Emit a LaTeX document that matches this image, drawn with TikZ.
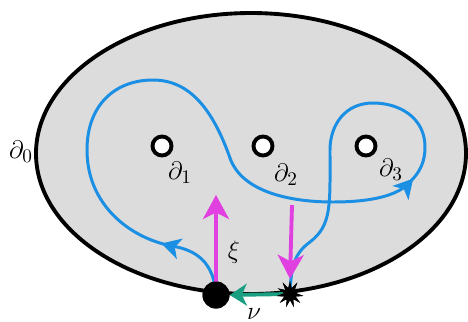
\documentclass[tikz,border=0pt]{standalone}
\usepackage{tikz}
\usetikzlibrary{arrows.meta, shapes.geometric, decorations.markings}
\definecolor{surfgray}{HTML}{DCDCDC}
\definecolor{loopblue}{HTML}{1B8FE3}
\definecolor{vecmagenta}{HTML}{E040E0}
\definecolor{nuteal}{HTML}{1A9E82}
\tikzset{
  surface/.style={draw=black, line width=2.2pt, fill=surfgray},
  hole/.style={
    circle, draw=black, line width=2.2pt, fill=white,
    minimum size=0.38cm, inner sep=0pt
  },
  basept/.style={circle, fill=black, minimum size=0.54cm, inner sep=0pt},
  puncture/.style={
    star, star points=11, star point ratio=2.2, fill=black,
    minimum size=0.54cm, inner sep=0pt
  },
  bdlabel/.style={font=\fontsize{15.5pt}{18pt}\selectfont, inner sep=0pt},
  looppath/.style={
    loopblue, line width=1.7pt, postaction={decorate},
    decoration={markings,
      mark=at position 0.085 with {\arrow{Stealth[length=3.8mm, width=4.2mm, inset=1mm]}},
      mark=at position 0.655 with {\arrow{Stealth[length=3.8mm, width=4.2mm, inset=1mm]}}}
  },
  vecarrow/.style={-{Stealth[length=4.8mm, width=5.2mm, inset=1.3mm]}, vecmagenta, line width=2.2pt},
  nuarrow/.style={-{Stealth[length=3.4mm, width=4.4mm, inset=1mm]}, nuteal, line width=2.2pt}
}

\begin{document}
\begin{tikzpicture}[x=0.02cm, y=-0.02cm]
\useasboundingbox (0,0) rectangle (468,322);

% Surface with outer boundary
\draw[surface] (251,153.5) ellipse [x radius=215, y radius=140.5];
\node[bdlabel] (d0) at (21,152) {$\partial_0$};

% Inner boundaries
\node[hole] (h1) at (162,146) {};
\node[hole] (h2) at (263,146) {};
\node[hole] (h3) at (366,146) {};
\node[bdlabel] (d1) at (180,173) {$\partial_1$};
\node[bdlabel] (d2) at (286,175) {$\partial_2$};
\node[bdlabel] (d3) at (391,170) {$\partial_3$};

% Base point and marked point on the boundary
\coordinate (dotpos) at (216,295);
\coordinate (starpos) at (290,294);
\node[basept] (dot) at (dotpos) {};
\node[puncture] (star) at (starpos) {};

% Loop from the base point to the marked point
\draw[looppath] (dot.center)
  .. controls (214,262) and (196,250) .. (172,246)
  .. controls (130,238) and (87,205) .. (87,150)
  .. controls (87,105) and (115,80) .. (153,80)
  .. controls (190,80) and (213,110) .. (230,158)
  .. controls (242,192) and (290,202) .. (333,202)
  .. controls (370,202) and (398,196) .. (410,182)
  .. controls (420,172) and (425,162) .. (425,147)
  .. controls (425,118) and (400,103) .. (373,103)
  .. controls (345,103) and (330,125) .. (330,150)
  .. controls (330,205) and (332,225) .. (310,242)
  .. controls (295,253) and (291,265) .. (star.center);

% Vectors
\coordinate (xitip) at (216,195);
\coordinate (vtop) at (292,205);
\draw[vecarrow] (dot.center) -- (xitip);
\draw[vecarrow] (vtop) -- (star.north);
\node[bdlabel] (xi) at (234,252) {$\xi$};
\draw[nuarrow] (star.center) -- (dot.east);
\node[bdlabel] (nu) at (254,314) {$\nu$};

% points on top
\node[basept] at (dotpos) {};
\node[puncture] at (starpos) {};

\end{tikzpicture}
\end{document}
